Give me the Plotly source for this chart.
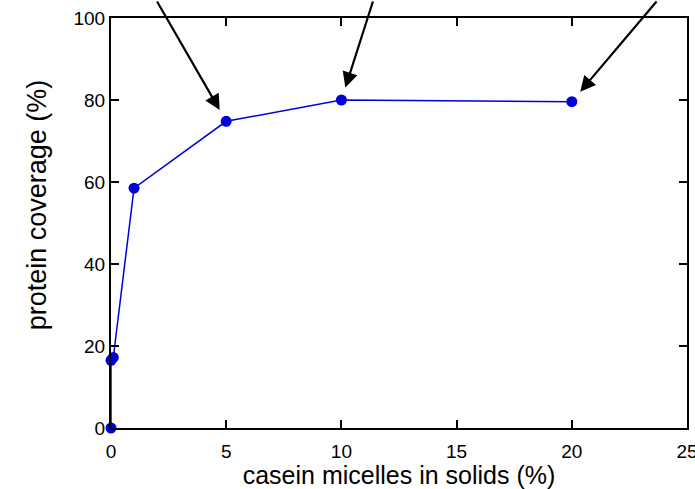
import plotly.graph_objects as go

# data
casein_pct = [0, 0, 0.1, 1, 5, 10, 20]
coverage_pct = [0, 16.5, 17.2, 58.5, 74.8, 80.0, 79.6]

x_ticks = [0, 5, 10, 15, 20, 25]
y_ticks = [0, 20, 40, 60, 80, 100]

# arrows pointing at these data indices (tail offsets in pixels)
arrow_idx = [4, 5, 6]
arrow_offsets = [(-70, -128), (32, -106), (86, -108)]

FONT = "Liberation Sans, Arial, sans-serif"

fig = go.Figure()
fig.add_trace(go.Scatter(
    x=casein_pct, y=coverage_pct, mode="lines+markers",
    line=dict(color="#0000dd", width=1.5),
    marker=dict(color="#0000dd", size=11),
    cliponaxis=False, showlegend=False,
))

for i, (ax, ay) in zip(arrow_idx, arrow_offsets):
    fig.add_annotation(
        x=casein_pct[i], y=coverage_pct[i], xref="x", yref="y",
        ax=ax, ay=ay, axref="pixel", ayref="pixel",
        showarrow=True, arrowhead=2, arrowsize=1.4, arrowwidth=2.2,
        arrowcolor="black", standoff=13, text="",
    )

fig.add_annotation(
    text="protein coverage (%)", textangle=-90,
    xref="paper", yref="paper", x=-0.128, y=0.5 + 18 / 410, xanchor="center", yanchor="middle",
    showarrow=False, font=dict(family=FONT, size=27, color="black"),
)

axis_common = dict(
    showline=True, linecolor="black", linewidth=2, mirror="ticks",
    ticks="inside", ticklen=8, tickwidth=1.5, tickcolor="black",
    showgrid=False, zeroline=False, ticklabeloverflow="allow", automargin=False,
    tickfont=dict(family=FONT, size=19, color="black"),
)

fig.update_xaxes(range=[0, 25], tickvals=x_ticks, ticktext=[str(v) for v in x_ticks],
                 ticklabelstandoff=5,
                 title=dict(text="casein micelles in solids (%)", font=dict(family=FONT, size=25, color="black"), standoff=6),
                 **axis_common)
fig.update_yaxes(range=[0, 100], tickvals=y_ticks, ticktext=[str(v) for v in y_ticks],
                 **axis_common)

fig.update_layout(
    width=695, height=489,
    margin=dict(l=111, r=8, t=18, b=61),
    plot_bgcolor="white", paper_bgcolor="white",
)

fig.write_html("out.html")
